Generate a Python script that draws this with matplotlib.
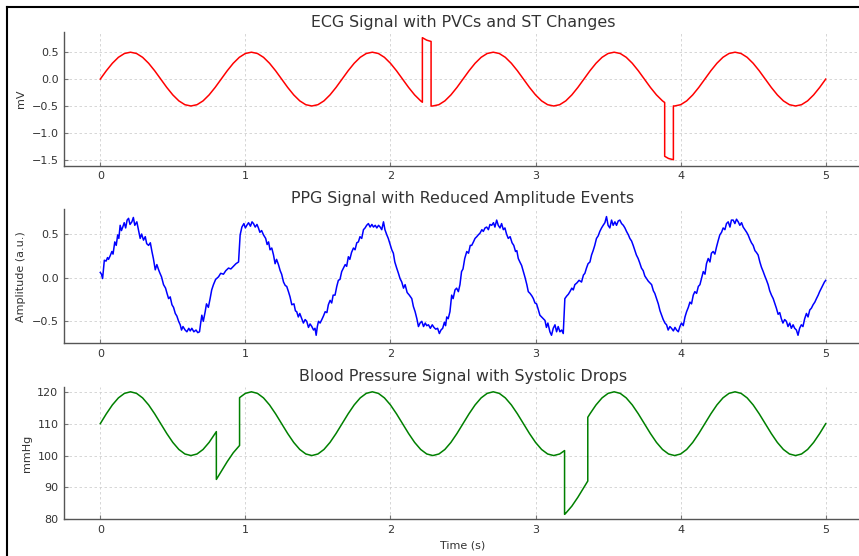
import numpy as np
import matplotlib
matplotlib.use("Agg")
import matplotlib.pyplot as plt
from matplotlib.lines import Line2D

# sampling grid for ECG and BP (24 samples per second, 0..5 s)
fs = 24
t_grid = np.arange(121) / fs

# ECG (mV) on the grid, PVC / ST offsets already in the values
ecg_v = [
    0.0, 0.155, 0.294, 0.405, 0.476, 0.5, 0.476, 0.405, 0.294, 0.155, 0.0, -0.155, -0.294, -0.405, -0.476, -0.5, -0.476, -0.405, -0.294, -0.155,
    0.0, 0.155, 0.294, 0.405, 0.476, 0.5, 0.476, 0.405, 0.294, 0.155, 0.0, -0.155, -0.294, -0.405, -0.476, -0.5, -0.476, -0.405, -0.294, -0.155,
    0.0, 0.155, 0.294, 0.405, 0.476, 0.5, 0.476, 0.405, 0.294, 0.155, 0.0, -0.155, -0.294, -0.405, 0.724, -0.5, -0.476, -0.405, -0.294, -0.155,
    0.0, 0.155, 0.294, 0.405, 0.476, 0.5, 0.476, 0.405, 0.294, 0.155, 0.0, -0.155, -0.294, -0.405, -0.476, -0.5, -0.476, -0.405, -0.294, -0.155,
    0.0, 0.155, 0.294, 0.405, 0.476, 0.5, 0.476, 0.405, 0.294, 0.155, 0.0, -0.155, -0.294, -0.405, -1.476, -0.5, -0.476, -0.405, -0.294, -0.155,
    0.0, 0.155, 0.294, 0.405, 0.476, 0.5, 0.476, 0.405, 0.294, 0.155, 0.0, -0.155, -0.294, -0.405, -0.476, -0.5, -0.476, -0.405, -0.294, -0.155,
    0.0,
]
# edges of the PVC (2.22-2.28 s) and ST depression (3.89-3.95 s)
ecg_edge_t = [2.22, 2.22, 2.28, 2.28, 3.89, 3.89, 3.95, 3.95]
ecg_edge_v = [-0.43, 0.77, 0.70, -0.50, -0.435, -1.435, -1.499, -0.499]

# blood pressure (mmHg) on the grid, systolic drops already in the values
bp_v = [
    110, 113.09, 115.88, 118.09, 119.51, 120, 119.51, 118.09, 115.88, 113.09, 110, 106.91, 104.12, 101.91, 100.49, 100, 100.49, 101.91, 104.12, 106.91,
    95, 98.09, 100.88, 103.09, 119.51, 120, 119.51, 118.09, 115.88, 113.09, 110, 106.91, 104.12, 101.91, 100.49, 100, 100.49, 101.91, 104.12, 106.91,
    110, 113.09, 115.88, 118.09, 119.51, 120, 119.51, 118.09, 115.88, 113.09, 110, 106.91, 104.12, 101.91, 100.49, 100, 100.49, 101.91, 104.12, 106.91,
    110, 113.09, 115.88, 118.09, 119.51, 120, 119.51, 118.09, 115.88, 113.09, 110, 106.91, 104.12, 101.91, 100.49, 100, 100.49, 81.91, 84.12, 86.91,
    90, 113.09, 115.88, 118.09, 119.51, 120, 119.51, 118.09, 115.88, 113.09, 110, 106.91, 104.12, 101.91, 100.49, 100, 100.49, 101.91, 104.12, 106.91,
    110, 113.09, 115.88, 118.09, 119.51, 120, 119.51, 118.09, 115.88, 113.09, 110, 106.91, 104.12, 101.91, 100.49, 100, 100.49, 101.91, 104.12, 106.91,
    110,
]
bp_edge_t = [0.80, 0.80, 0.96, 0.96, 3.20, 3.20, 3.36, 3.36]
bp_edge_v = [107.51, 92.51, 103.16, 118.16, 101.56, 81.56, 92.0, 112.0]

# PPG (a.u.), read point by point as (time, value)
ppg_points = [
    (0.000, 0.06), (0.008, 0.04), (0.016, -0.01), (0.028, 0.20), (0.040, 0.19), (0.050, 0.23), (0.057, 0.21),
    (0.068, 0.25), (0.080, 0.30), (0.088, 0.27), (0.100, 0.41), (0.110, 0.37), (0.120, 0.49), (0.128, 0.45),
    (0.137, 0.60), (0.146, 0.54), (0.155, 0.58), (0.165, 0.63), (0.175, 0.57), (0.185, 0.66), (0.195, 0.68),
    (0.205, 0.61), (0.218, 0.64), (0.228, 0.69), (0.238, 0.60), (0.252, 0.64), (0.262, 0.56), (0.275, 0.45),
    (0.285, 0.50), (0.298, 0.43), (0.310, 0.47), (0.320, 0.39), (0.333, 0.37), (0.345, 0.40), (0.356, 0.30),
    (0.366, 0.22), (0.379, 0.09), (0.390, 0.15), (0.400, 0.10), (0.409, 0.06), (0.422, 0.01), (0.436, -0.08),
    (0.450, -0.12), (0.460, -0.18), (0.471, -0.24), (0.482, -0.22), (0.494, -0.31), (0.505, -0.34), (0.517, -0.41),
    (0.528, -0.44), (0.540, -0.50), (0.551, -0.54), (0.560, -0.60), (0.570, -0.56), (0.585, -0.60), (0.597, -0.62),
    (0.610, -0.58), (0.620, -0.61), (0.631, -0.58), (0.645, -0.62), (0.660, -0.60), (0.672, -0.63), (0.684, -0.62),
    (0.692, -0.52), (0.700, -0.43), (0.710, -0.50), (0.723, -0.39), (0.732, -0.30), (0.745, -0.34), (0.757, -0.24),
    (0.768, -0.14), (0.780, -0.08), (0.795, -0.02), (0.815, 0.01), (0.830, 0.05), (0.849, 0.04), (0.865, 0.08),
    (0.884, 0.11), (0.900, 0.10), (0.918, 0.13), (0.935, 0.16), (0.953, 0.18), (0.964, 0.49), (0.976, 0.58),
    (0.990, 0.62), (1.000, 0.57), (1.010, 0.60), (1.022, 0.63), (1.035, 0.59), (1.046, 0.64), (1.056, 0.62),
    (1.068, 0.58), (1.080, 0.61), (1.090, 0.57), (1.100, 0.52), (1.112, 0.54), (1.125, 0.49), (1.140, 0.45),
    (1.150, 0.38), (1.160, 0.41), (1.170, 0.32), (1.182, 0.34), (1.194, 0.26), (1.205, 0.16), (1.215, 0.21),
    (1.228, 0.15), (1.240, 0.08), (1.250, 0.04), (1.263, -0.05), (1.275, -0.09), (1.285, -0.10), (1.297, -0.16),
    (1.308, -0.22), (1.320, -0.31), (1.335, -0.30), (1.345, -0.38), (1.354, -0.39), (1.365, -0.45), (1.375, -0.41),
    (1.389, -0.47), (1.400, -0.52), (1.412, -0.48), (1.423, -0.50), (1.435, -0.57), (1.446, -0.53), (1.458, -0.56),
    (1.470, -0.60), (1.480, -0.58), (1.488, -0.66), (1.496, -0.56), (1.504, -0.50), (1.515, -0.52), (1.527, -0.48),
    (1.538, -0.44), (1.550, -0.39), (1.562, -0.40), (1.572, -0.31), (1.584, -0.26), (1.595, -0.29), (1.605, -0.20),
    (1.618, -0.20), (1.630, -0.10), (1.641, -0.03), (1.652, -0.02), (1.664, 0.07), (1.676, 0.11), (1.688, 0.15),
    (1.698, 0.13), (1.710, 0.24), (1.720, 0.21), (1.732, 0.29), (1.745, 0.34), (1.756, 0.32), (1.768, 0.40),
    (1.779, 0.41), (1.790, 0.47), (1.802, 0.45), (1.814, 0.55), (1.825, 0.57), (1.836, 0.60), (1.848, 0.62),
    (1.860, 0.58), (1.872, 0.61), (1.883, 0.58), (1.895, 0.60), (1.906, 0.57), (1.918, 0.60), (1.929, 0.58),
    (1.940, 0.55), (1.952, 0.64), (1.962, 0.55), (1.975, 0.49), (1.985, 0.45), (1.996, 0.39), (2.009, 0.32),
    (2.020, 0.28), (2.030, 0.18), (2.043, 0.11), (2.055, 0.05), (2.066, -0.01), (2.078, -0.05), (2.090, -0.12),
    (2.101, -0.08), (2.115, -0.17), (2.130, -0.20), (2.147, -0.24), (2.158, -0.33), (2.170, -0.39), (2.182, -0.47),
    (2.193, -0.56), (2.204, -0.52), (2.216, -0.50), (2.228, -0.56), (2.240, -0.52), (2.250, -0.55), (2.262, -0.54),
    (2.275, -0.58), (2.288, -0.54), (2.300, -0.57), (2.312, -0.59), (2.325, -0.58), (2.337, -0.64), (2.348, -0.60),
    (2.360, -0.58), (2.372, -0.51), (2.380, -0.55), (2.388, -0.45), (2.398, -0.47), (2.410, -0.39), (2.422, -0.20),
    (2.432, -0.24), (2.445, -0.14), (2.456, -0.12), (2.468, -0.16), (2.479, -0.08), (2.490, 0.07), (2.500, 0.10),
    (2.512, 0.22), (2.526, 0.30), (2.538, 0.28), (2.550, 0.37), (2.560, 0.37), (2.572, 0.41), (2.583, 0.45),
    (2.595, 0.47), (2.605, 0.49), (2.617, 0.51), (2.630, 0.55), (2.640, 0.53), (2.652, 0.57), (2.663, 0.58),
    (2.675, 0.55), (2.686, 0.61), (2.698, 0.60), (2.710, 0.63), (2.720, 0.58), (2.732, 0.66), (2.743, 0.60),
    (2.755, 0.57), (2.766, 0.62), (2.778, 0.55), (2.789, 0.57), (2.800, 0.50), (2.812, 0.45), (2.825, 0.47),
    (2.838, 0.40), (2.850, 0.37), (2.862, 0.30), (2.871, 0.31), (2.881, 0.22), (2.892, 0.18), (2.904, 0.14),
    (2.916, 0.07), (2.928, 0.00), (2.940, -0.08), (2.950, -0.16), (2.962, -0.18), (2.975, -0.21), (2.985, -0.24),
    (2.996, -0.29), (3.007, -0.30), (3.018, -0.36), (3.030, -0.43), (3.042, -0.45), (3.055, -0.47), (3.065, -0.49),
    (3.075, -0.57), (3.085, -0.52), (3.099, -0.62), (3.110, -0.66), (3.122, -0.58), (3.134, -0.54), (3.145, -0.62),
    (3.156, -0.56), (3.168, -0.62), (3.180, -0.60), (3.191, -0.64), (3.202, -0.24), (3.215, -0.21), (3.226, -0.19),
    (3.237, -0.16), (3.250, -0.12), (3.260, -0.14), (3.271, -0.08), (3.285, -0.06), (3.300, -0.03), (3.317, -0.05),
    (3.330, 0.03), (3.340, 0.05), (3.351, 0.11), (3.362, 0.16), (3.375, 0.18), (3.386, 0.26), (3.397, 0.31),
    (3.408, 0.37), (3.420, 0.45), (3.432, 0.48), (3.443, 0.53), (3.455, 0.57), (3.466, 0.60), (3.478, 0.63),
    (3.489, 0.70), (3.500, 0.60), (3.512, 0.57), (3.524, 0.66), (3.535, 0.60), (3.547, 0.64), (3.558, 0.60),
    (3.570, 0.65), (3.581, 0.66), (3.593, 0.62), (3.605, 0.60), (3.616, 0.57), (3.627, 0.53), (3.640, 0.49),
    (3.650, 0.45), (3.662, 0.42), (3.673, 0.37), (3.685, 0.31), (3.695, 0.26), (3.707, 0.22), (3.718, 0.17),
    (3.730, 0.11), (3.742, 0.08), (3.753, 0.02), (3.765, -0.01), (3.777, -0.04), (3.788, -0.06), (3.800, -0.08),
    (3.812, -0.15), (3.822, -0.18), (3.834, -0.24), (3.846, -0.30), (3.858, -0.38), (3.869, -0.43), (3.880, -0.48),
    (3.892, -0.52), (3.903, -0.54), (3.914, -0.60), (3.926, -0.56), (3.937, -0.58), (3.950, -0.61), (3.961, -0.57),
    (3.972, -0.60), (3.984, -0.62), (3.995, -0.56), (4.006, -0.52), (4.018, -0.55), (4.030, -0.45), (4.041, -0.39),
    (4.053, -0.34), (4.064, -0.28), (4.075, -0.30), (4.087, -0.20), (4.098, -0.16), (4.110, -0.18), (4.122, -0.10),
    (4.133, -0.08), (4.145, 0.00), (4.156, 0.07), (4.168, 0.04), (4.178, 0.16), (4.190, 0.22), (4.202, 0.18),
    (4.212, 0.28), (4.224, 0.30), (4.236, 0.27), (4.247, 0.35), (4.258, 0.42), (4.270, 0.49), (4.282, 0.52),
    (4.293, 0.57), (4.305, 0.55), (4.316, 0.62), (4.328, 0.64), (4.340, 0.58), (4.350, 0.66), (4.362, 0.66),
    (4.374, 0.62), (4.385, 0.67), (4.397, 0.64), (4.408, 0.60), (4.420, 0.63), (4.431, 0.58), (4.443, 0.55),
    (4.455, 0.52), (4.465, 0.49), (4.477, 0.44), (4.488, 0.40), (4.500, 0.37), (4.512, 0.31), (4.522, 0.29),
    (4.534, 0.26), (4.546, 0.18), (4.557, 0.12), (4.569, 0.07), (4.580, 0.02), (4.592, -0.03), (4.603, -0.08),
    (4.614, -0.15), (4.626, -0.20), (4.638, -0.24), (4.650, -0.30), (4.660, -0.35), (4.672, -0.42), (4.683, -0.40),
    (4.694, -0.47), (4.705, -0.52), (4.717, -0.48), (4.729, -0.50), (4.740, -0.56), (4.752, -0.52), (4.763, -0.58),
    (4.775, -0.54), (4.786, -0.58), (4.798, -0.60), (4.809, -0.66), (4.820, -0.58), (4.832, -0.54), (4.843, -0.56),
    (4.855, -0.47), (4.867, -0.41), (4.878, -0.45), (4.890, -0.37), (4.901, -0.35), (4.913, -0.31), (4.925, -0.28),
    (4.936, -0.24), (4.948, -0.20), (4.958, -0.16), (4.970, -0.12), (4.982, -0.08), (4.991, -0.05), (5.000, -0.03),
]
ppg_t = [p[0] for p in ppg_points]
ppg_v = [p[1] for p in ppg_points]


def merge(tg, vg, te, ve):
    t = np.concatenate([tg, te])
    v = np.concatenate([vg, ve])
    order = np.argsort(t, kind="stable")
    return t[order], v[order]


ecg_t, ecg_y = merge(t_grid, ecg_v, ecg_edge_t, ecg_edge_v)
bp_t, bp_y = merge(t_grid, bp_v, bp_edge_t, bp_edge_v)

W, H = 859, 556
fig = plt.figure(figsize=(W / 100, H / 100), dpi=100)


def px_axes(left, top, right, bottom):
    return fig.add_axes([left / W, 1 - bottom / H, (right - left) / W, (bottom - top) / H])


ax1 = px_axes(64, 32.3, 862, 165.7)
ax2 = px_axes(64, 209, 862, 343.3)
ax3 = px_axes(64, 386.7, 862, 519.3)

ax1.plot(ecg_t, ecg_y, color="red", lw=1.1)
ax2.plot(ppg_t, ppg_v, color="blue", lw=1.1)
ax3.plot(bp_t, bp_y, color="green", lw=1.1)

title_kw = dict(fontsize=11.4, color="#333333", pad=4)
ax1.set_title("ECG Signal with PVCs and ST Changes", **title_kw)
ax2.set_title("PPG Signal with Reduced Amplitude Events", **title_kw)
ax3.set_title("Blood Pressure Signal with Systolic Drops", **title_kw)

ax1.set_ylabel("mV", fontsize=8, color="#333333")
ax2.set_ylabel("Amplitude (a.u.)", fontsize=8, color="#333333")
ax3.set_ylabel("mmHg", fontsize=8, color="#333333")
ax3.set_xlabel("Time (s)", fontsize=8, color="#333333", labelpad=4)

ax1.set_ylim(-1.61, 0.87)
ax2.set_ylim(-0.752, 0.787)
ax3.set_ylim(80, 121.6)
ax1.set_yticks([-1.5, -1.0, -0.5, 0.0, 0.5])
ax2.set_yticks([-0.5, 0.0, 0.5])
ax3.set_yticks([80, 90, 100, 110, 120])

for ax in (ax1, ax2, ax3):
    ax.set_xlim(-0.25, 5.25)
    ax.set_xticks([0, 1, 2, 3, 4, 5])
    ax.grid(True, ls=(0, (3, 3)), color="#d0d0d0", lw=0.6)
    ax.set_axisbelow(True)
    for s in ("top", "right"):
        ax.spines[s].set_visible(False)
    for s in ("left", "bottom"):
        ax.spines[s].set_color("#555555")
        ax.spines[s].set_linewidth(1.0)
    ax.tick_params(direction="in", length=3, width=0.8, color="#777777",
                   labelsize=8, labelcolor="#333333", pad=4)

# black frame from the screenshot
fig.add_artist(Line2D([6.5 / W, 6.5 / W], [0, 1 - 6.5 / H], color="black", lw=1.5,
                      transform=fig.transFigure))
fig.add_artist(Line2D([6.5 / W, 1], [1 - 6.5 / H, 1 - 6.5 / H], color="black", lw=1.5,
                      transform=fig.transFigure))

fig.savefig("out.png", dpi=100)
